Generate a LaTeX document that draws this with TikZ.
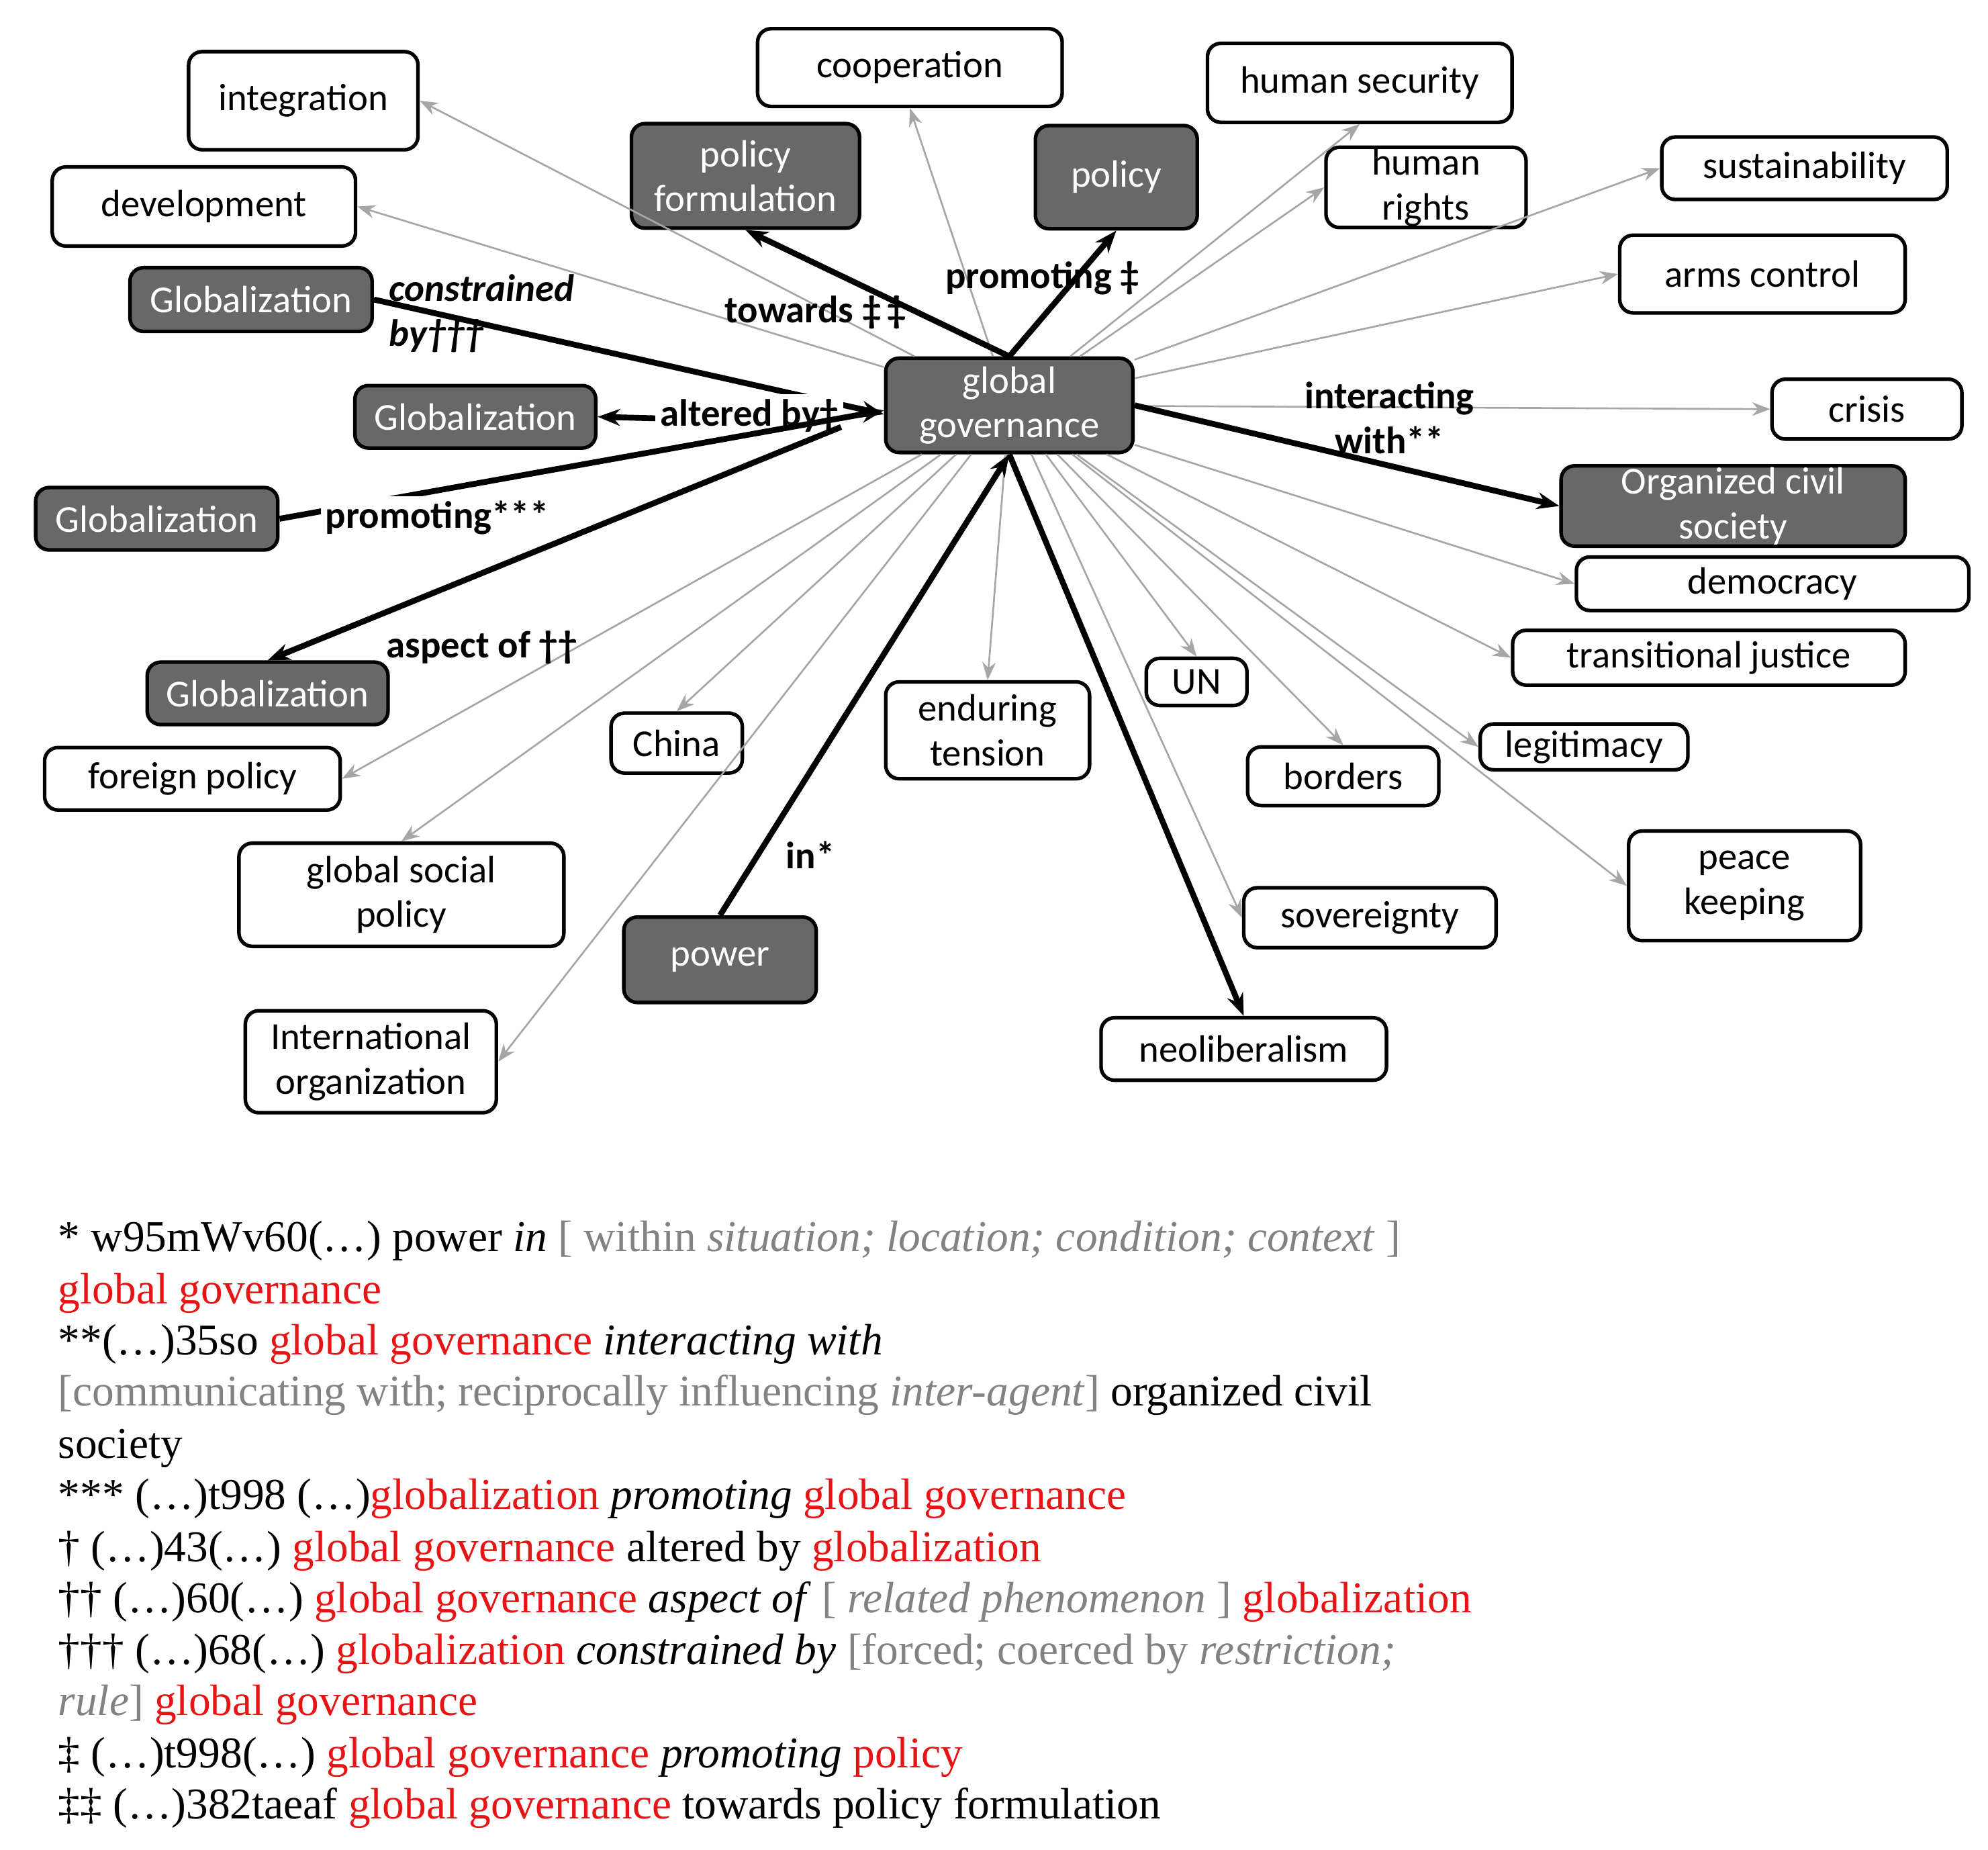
\documentclass[tikz,border=0pt]{standalone}
\usepackage{fontspec}
\setmainfont{Liberation Serif}
\newfontfamily\boxfont{Carlito}
\usetikzlibrary{arrows.meta}
\definecolor{darkbox}{RGB}{104,104,104}
\definecolor{txtred}{RGB}{230,20,20}
\definecolor{txtgrey}{RGB}{130,130,130}
\tikzset{
  wbox/.style={draw,rounded corners=3pt,thick,fill=white,align=center,
    font=\boxfont\fontsize{8.5}{10}\selectfont,inner sep=0pt},
  dbox/.style={wbox,fill=darkbox,text=white},
  sz/.style n args={2}{minimum width=#1*0.01cm,minimum height=#2*0.01cm},
  thin link/.style={draw=gray!70,-{Stealth[length=4pt]},line width=0.4pt},
  thick link/.style={draw=black,-{Stealth[length=5pt]},line width=1.3pt},
  lab/.style={font=\boxfont\bfseries\fontsize{8.5}{10}\selectfont,align=left,inner sep=1pt},
  legend/.style={anchor=base west,inner sep=0pt,font=\fontsize{9.8}{12}\selectfont}
}
\newcommand{\rd}[1]{\textcolor{txtred}{#1}}
\newcommand{\gr}[1]{\textcolor{txtgrey}{#1}}
\begin{document}
\begin{tikzpicture}[x=0.01cm,y=-0.01cm]
  \useasboundingbox (0,0) rectangle (1560,1451);
  % boxes
  \node[dbox,sz={194}{74}] (gg) at (792,318) {global\\governance};
  \node[wbox,sz={180}{77}] (integ) at (238,79) {integration};
  \node[wbox,sz={238}{62}] (devel) at (160,162) {development};
  \node[dbox,sz={190}{50}] (glob1) at (197,235) {Globalization};
  \node[dbox,sz={189}{49}] (glob2) at (373,327) {Globalization};
  \node[dbox,sz={190}{49}] (glob3) at (123,407) {Globalization};
  \node[dbox,sz={189}{49}] (glob4) at (210,544) {Globalization};
  \node[wbox,sz={232}{49}] (forpol) at (151,611) {foreign policy};
  \node[wbox,sz={255}{81}] (gsp) at (315,702) {global social\\policy};
  \node[wbox,sz={197}{80}] (intorg) at (291,833) {International\\organization};
  \node[wbox,sz={103}{47}] (china) at (531,583) {China};
  \node[dbox,sz={151}{67}] (power) at (565,753) {power};
  \node[wbox,sz={160}{76}] (endur) at (775,573) {enduring\\tension};
  \node[wbox,sz={79}{37}] (un) at (939,535) {UN};
  \node[wbox,sz={150}{46}] (borders) at (1054,609) {borders};
  \node[wbox,sz={198}{47}] (sover) at (1075,720) {sovereignty};
  \node[wbox,sz={224}{49}] (neolib) at (976,823) {neoliberalism};
  \node[wbox,sz={163}{36}] (legit) at (1243,586) {legitimacy};
  \node[wbox,sz={182}{86}] (peace) at (1369,695) {peace\\keeping};
  \node[wbox,sz={308}{43}] (transj) at (1341,516) {transitional justice};
  \node[wbox,sz={308}{42}] (democ) at (1391,458) {democracy};
  \node[dbox,sz={270}{63}] (ocs) at (1360,397) {Organized civil\\society};
  \node[wbox,sz={149}{47}] (crisis) at (1465,321) {crisis};
  \node[wbox,sz={224}{61}] (arms) at (1383,215) {arms control};
  \node[wbox,sz={224}{49}] (sustain) at (1416,132) {sustainability};
  \node[wbox,sz={157}{63}] (hrights) at (1119,147) {human\\rights};
  \node[wbox,sz={239}{62}] (hsec) at (1067,65) {human security};
  \node[dbox,sz={127}{81}] (policy) at (876,139) {policy};
  \node[wbox,sz={239}{61}] (coop) at (714,53) {cooperation};
  \node[dbox,sz={179}{82}] (polform) at (585,138) {policy\\formulation};
  % thin links
  \foreach \t in {integ.east,devel.east,coop.south,hsec.south,hrights.west,
      sustain.west,arms.west,crisis.west,democ.west,transj.west,legit.west,
      peace.west,borders.north,un.north,sover.west,endur.north,china.north,
      forpol.east,gsp.north,intorg.east}
    \path[thin link] (gg) -- (\t);
  % thick links
  \path[thick link] (gg.north) -- (policy.south);
  \node[lab] (lpolicy) at (818,218) {promoting \ddag};
  \path[thick link] (gg.north) -- (polform.south);
  \node[lab] (lform) at (640,245) {towards \ddag\,\ddag};
  \path[thick link] (glob1.east) -- (gg.west|-0,325);
  \node[lab,font=\boxfont\bfseries\itshape\fontsize{8.5}{10}\selectfont] (lconstr) at (378,246) {constrained\\by\dag\dag\dag};
  \path[thick link] (660,332) -- (glob2.east);
  \node[lab,fill=white] (lalter) at (588,326) {altered by\dag};
  \path[thick link] (glob3.east) -- (gg.west|-0,322);
  \node[lab,fill=white] (lpromo) at (343,406) {promoting***};
  \path[thick link] (660,335) -- (glob4.north);
  \node[lab] (laspect) at (378,508) {aspect of \dag\dag};
  \path[thick link] (power.north) -- (gg.south);
  \node[lab] (lin) at (636,671) {in*};
  \path[thick link] (gg.south) -- (neolib.north);
  \path[thick link] (gg.east) -- (ocs.west)
    node[lab,pos=0.6,above=1pt,align=center] {interacting\\with**};
  % legend
  \node[legend] (l1) at (45,982) {* w95mWv60(\dots) power \textit{in} \gr{[ within \textit{situation; location; condition; context} ]}};
  \node[legend] (l2) at (45,1023) {\rd{global governance}};
  \node[legend] (l3) at (45,1063) {**(\dots)35so \rd{global governance} \textit{interacting with}};
  \node[legend] (l4) at (45,1103) {\gr{[communicating with; reciprocally influencing \textit{inter-agent}]} organized civil};
  \node[legend] (l5) at (45,1144) {society};
  \node[legend] (l6) at (45,1184) {*** (\dots)t998 (\dots)\rd{globalization} \textit{promoting} \rd{global governance}};
  \node[legend] (l7) at (45,1225) {\dag\ (\dots)43(\dots) \rd{global governance} altered by \rd{globalization}};
  \node[legend] (l8) at (45,1265) {\dag\dag\ (\dots)60(\dots) \rd{global governance} \textit{aspect of} \gr{[ \textit{related phenomenon} ]} \rd{globalization}};
  \node[legend] (l9) at (45,1306) {\dag\dag\dag\ (\dots)68(\dots) \rd{globalization} \textit{constrained by} \gr{[forced; coerced by \textit{restriction;}}};
  \node[legend] (l10) at (45,1346) {\gr{\textit{rule}]} \rd{global governance}};
  \node[legend] (l11) at (45,1387) {\ddag\ (\dots)t998(\dots) \rd{global governance} \textit{promoting} \rd{policy}};
  \node[legend] (l12) at (45,1427) {\ddag\ddag\ (\dots)382taeaf \rd{global governance} towards policy formulation};
\end{tikzpicture}
\end{document}
